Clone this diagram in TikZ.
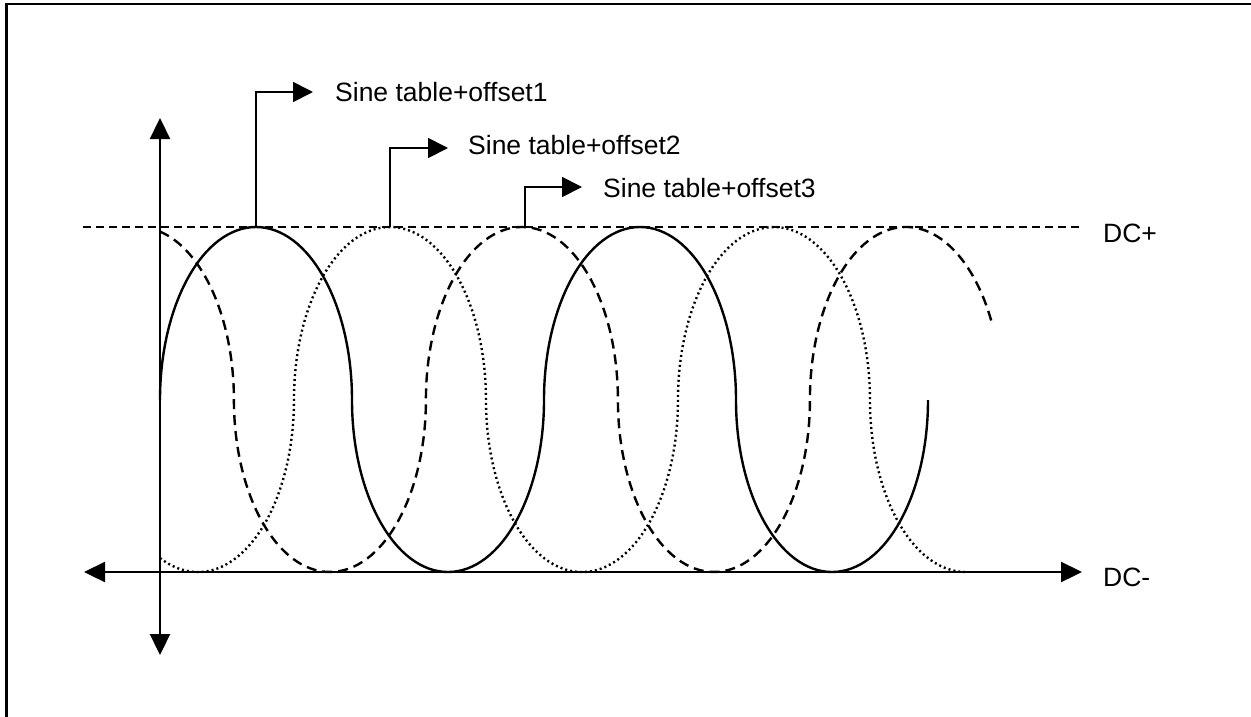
\documentclass[tikz,border=0pt]{standalone}
\usepackage{fontspec}
\setmainfont{Liberation Sans}
\usetikzlibrary{arrows.meta}
\begin{document}
\begin{tikzpicture}[x=1pt,y=-1pt,
  axis/.style={line width=2.3pt,{Triangle[length=21pt,width=20pt]}-{Triangle[length=21pt,width=20pt]}},
  callout/.style={line width=1.8pt,-{Triangle[length=20pt,width=20pt]}},
  lbl/.style={font=\fontsize{26.5}{30}\selectfont,inner sep=0pt,anchor=base west},
  wave1/.style={line width=2.4pt},
  wave2/.style={line width=2.4pt,dash pattern=on 2pt off 3pt},
  wave3/.style={line width=2.4pt,dash pattern=on 10pt off 6pt},
  dcline/.style={line width=1.7pt,dash pattern=on 8pt off 5pt}]
\useasboundingbox (0,0) rectangle (1251,716);
% frame (only left and top visible)
\draw[line width=2.5pt] (6.5,730) |- (1265,4);
% DC+ level
\coordinate (dcl) at (83,227);
\coordinate (dcr) at (1083,227);
\draw[dcline] (dcl) -- (dcr);
% axes
\coordinate (vt) at (160,118);
\coordinate (vb) at (160,655);
\coordinate (hl) at (84,572);
\coordinate (hr) at (1082,572);
\draw[axis] (vt) -- (vb);
\draw[axis] (hl) -- (hr);
% solid wave (offset1)
\draw[wave1] (160,400)
  arc[start angle=180,end angle=0,x radius=96pt,y radius=173pt]
  arc[start angle=180,end angle=360,x radius=96pt,y radius=172pt]
  arc[start angle=180,end angle=0,x radius=96pt,y radius=173pt]
  arc[start angle=180,end angle=360,x radius=96pt,y radius=172pt];
% dotted wave (offset2)
\draw[wave2] (160,558)
  arc[start angle=246.7,end angle=360,x radius=96pt,y radius=172pt]
  arc[start angle=180,end angle=0,x radius=96pt,y radius=173pt]
  arc[start angle=180,end angle=360,x radius=96pt,y radius=172pt]
  arc[start angle=180,end angle=0,x radius=96pt,y radius=173pt]
  arc[start angle=180,end angle=270,x radius=96pt,y radius=172pt];
% dashed wave (offset3)
\draw[wave3] (160,231.6)
  arc[start angle=76.7,end angle=0,x radius=96pt,y radius=173pt]
  arc[start angle=180,end angle=360,x radius=96pt,y radius=172pt]
  arc[start angle=180,end angle=0,x radius=96pt,y radius=173pt]
  arc[start angle=180,end angle=360,x radius=96pt,y radius=172pt]
  arc[start angle=180,end angle=27,x radius=96pt,y radius=173pt];
% peaks
\coordinate (p1) at (256,227);
\coordinate (p2) at (390,227);
\coordinate (p3) at (525,227);
% labels
\node[lbl] (l1) at (335,101) {Sine table+offset1};
\node[lbl] (l2) at (468,154) {Sine table+offset2};
\node[lbl] (l3) at (603,197) {Sine table+offset3};
\node[lbl] (dcp) at (1103,242) {DC+};
\node[lbl] (dcm) at (1103,586) {DC-};
% callouts
\coordinate (t1) at (313,92);
\coordinate (t2) at (448,148);
\coordinate (t3) at (582,187);
\draw[callout] (p1) |- (t1);
\draw[callout] (p2) |- (t2);
\draw[callout] (p3) |- (t3);
\end{tikzpicture}
\end{document}
